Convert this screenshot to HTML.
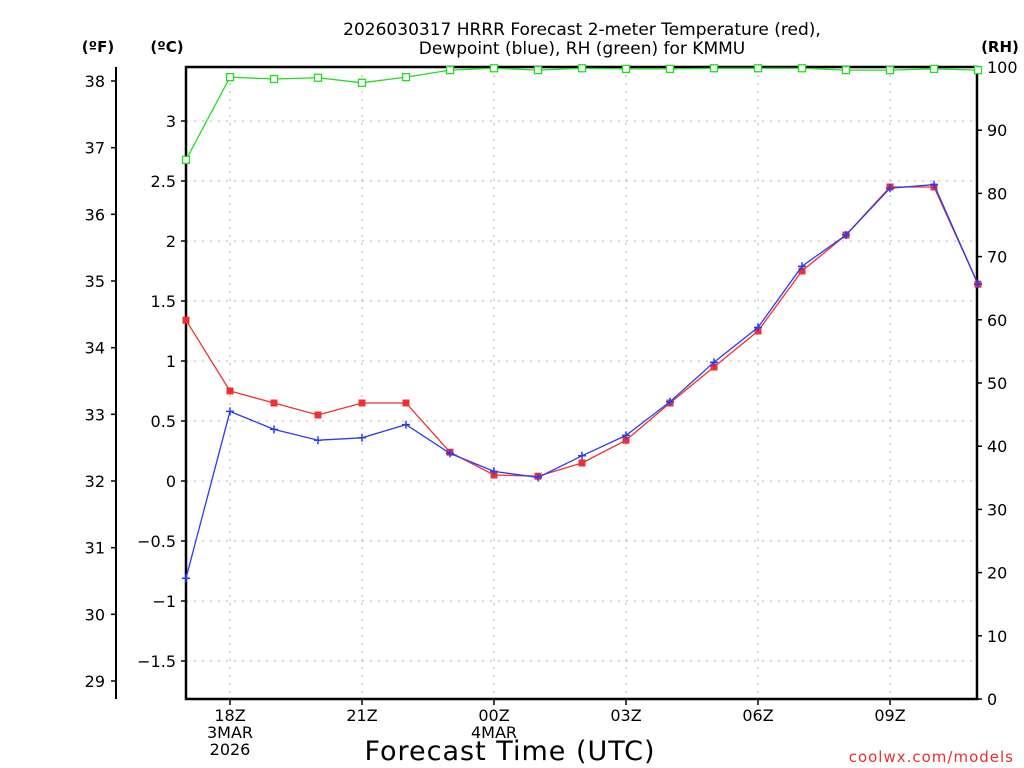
<!DOCTYPE html>
<html><head><meta charset="utf-8"><style>
html,body{margin:0;padding:0;background:#fff;}
svg{display:block;font-family:"DejaVu Sans","Liberation Sans",sans-serif;}
</style></head><body>
<svg id="chart" width="1024" height="768" viewBox="0 0 1024 768">
<text x="582" y="35" font-size="17" text-anchor="middle">2026030317 HRRR Forecast 2-meter Temperature (red),</text>
<text x="582" y="54" font-size="17" text-anchor="middle">Dewpoint (blue), RH (green) for KMMU</text>
<text x="98" y="52" font-size="15" font-weight="bold" text-anchor="middle">(ºF)</text>
<text x="167" y="52" font-size="15" font-weight="bold" text-anchor="middle">(ºC)</text>
<text x="1000" y="52" font-size="15" font-weight="bold" text-anchor="middle">(RH)</text>
<text x="510" y="760" font-size="27" text-anchor="middle" letter-spacing="1">Forecast Time (UTC)</text>
<text x="1014" y="762" font-size="15" fill="#e83030" text-anchor="end" letter-spacing="1">coolwx.com/models</text>
<g id="grid"></g>
<g id="axes"></g>
<g id="series"></g>
</svg>
<script>
const hours = [17,18,19,20,21,22,23,24,25,26,27,28,29,30,31,32,33,34,35];
const tempC = [1.34,0.75,0.65,0.55,0.65,0.65,0.24,0.05,0.04,0.15,0.34,0.65,0.95,1.25,1.75,2.05,2.45,2.45,1.64];
const dewC = [-0.81,0.58,0.43,0.34,0.36,0.47,0.23,0.08,0.03,0.21,0.38,0.66,0.99,1.28,1.79,2.05,2.44,2.47,1.64];
const rh = [85.3,98.4,98.1,98.3,97.5,98.4,99.5,99.8,99.5,99.8,99.7,99.7,99.8,99.8,99.8,99.5,99.5,99.7,99.5];
const cTicks = [-1.5,-1,-0.5,0,0.5,1,1.5,2,2.5,3];
const cLabels = ["\u22121.5","\u22121","\u22120.5","0","0.5","1","1.5","2","2.5","3"];
const fTicks = [29,30,31,32,33,34,35,36,37,38];
const rhTicks = [0,10,20,30,40,50,60,70,80,90,100];
const xTickHours = [18,21,24,27,30,33];
const xTickLabels = [["18Z","3MAR","2026"],["21Z"],["00Z","4MAR"],["03Z"],["06Z"],["09Z"]];

const L=186,R=977,T=67,B=699;
const xs = h => L + (h-17)*44;
const yc = c => 481 - c*120;
const yf = f => yc((f-32)*5/9);
const yr = r => B - r*(B-T)/100;
const NS="http://www.w3.org/2000/svg";
function mk(parent,tag,attrs){const e=document.createElementNS(NS,tag);for(const k in attrs)e.setAttribute(k,attrs[k]);parent.appendChild(e);return e;}
const grid=document.getElementById('grid'),axes=document.getElementById('axes'),ser=document.getElementById('series');

cTicks.forEach((c,i)=>{
  const g=mk(grid,'line',{x1:L,x2:R,y1:yc(c),y2:yc(c),stroke:'#b0b0b0','stroke-dasharray':'2,6'});
  
  
  mk(axes,'line',{x1:L-5,x2:L,y1:yc(c),y2:yc(c),stroke:'#000','stroke-width':1.5});
  const t=mk(axes,'text',{x:L-10,y:yc(c)+6,'font-size':16,'text-anchor':'end'});t.textContent=cLabels[i];
  
  
});
xTickHours.forEach((h,i)=>{
  const g=mk(grid,'line',{x1:xs(h),x2:xs(h),y1:T,y2:B,stroke:'#b0b0b0','stroke-dasharray':'2,6'});
  
  
  mk(axes,'line',{x1:xs(h),x2:xs(h),y1:B,y2:B+6,stroke:'#000','stroke-width':1.5});
  xTickLabels[i].forEach((s,j)=>{
    const t=mk(axes,'text',{x:xs(h),y:B+22+j*17,'font-size':16,'text-anchor':'middle'});t.textContent=s;
    
    
  });
});
mk(axes,'line',{x1:116,x2:116,y1:T,y2:B,stroke:'#000','stroke-width':2});
fTicks.forEach(f=>{
  mk(axes,'line',{x1:111,x2:116,y1:yf(f),y2:yf(f),stroke:'#000','stroke-width':1.5});
  const t=mk(axes,'text',{x:105,y:yf(f)+6,'font-size':16,'text-anchor':'end'});t.textContent=f;
  
  
});
rhTicks.forEach(r=>{
  mk(axes,'line',{x1:R,x2:R+5,y1:yr(r),y2:yr(r),stroke:'#000','stroke-width':1.5});
  const t=mk(axes,'text',{x:R+10,y:yr(r)+6,'font-size':16,'text-anchor':'start'});t.textContent=r;
  
  
});
const fr=mk(axes,'rect',{x:L,y:T,width:R-L,height:B-T,fill:'none',stroke:'#000','stroke-width':2.5});



function line(vals,yfn,color,name){
  const p=mk(ser,'polyline',{points:vals.map((v,i)=>xs(hours[i])+','+yfn(v)).join(' '),fill:'none',stroke:color,'stroke-width':1.3});
  
  
}
line(rh,yr,'#22dd22','rh-line');
rh.forEach((v,i)=>{const m=mk(ser,'rect',{x:xs(hours[i])-3.5,y:yr(v)-3.5,width:7,height:7,fill:'#fff',stroke:'#22dd22','stroke-width':1.3});
  
  });
line(tempC,yc,'#f03030','temperature-line');
tempC.forEach((v,i)=>{const m=mk(ser,'rect',{x:xs(hours[i])-3.5,y:yc(v)-3.5,width:7,height:7,fill:'#f03030'});
  
  });
line(dewC,yc,'#2a3cf0','dewpoint-line');
dewC.forEach((v,i)=>{const x=xs(hours[i]),y=yc(v);const m=mk(ser,'path',{d:`M${x-4},${y}H${x+4}M${x},${y-4}V${y+4}`,stroke:'#2a3cf0','stroke-width':1.5});
  
  });
</script>
</body></html>
